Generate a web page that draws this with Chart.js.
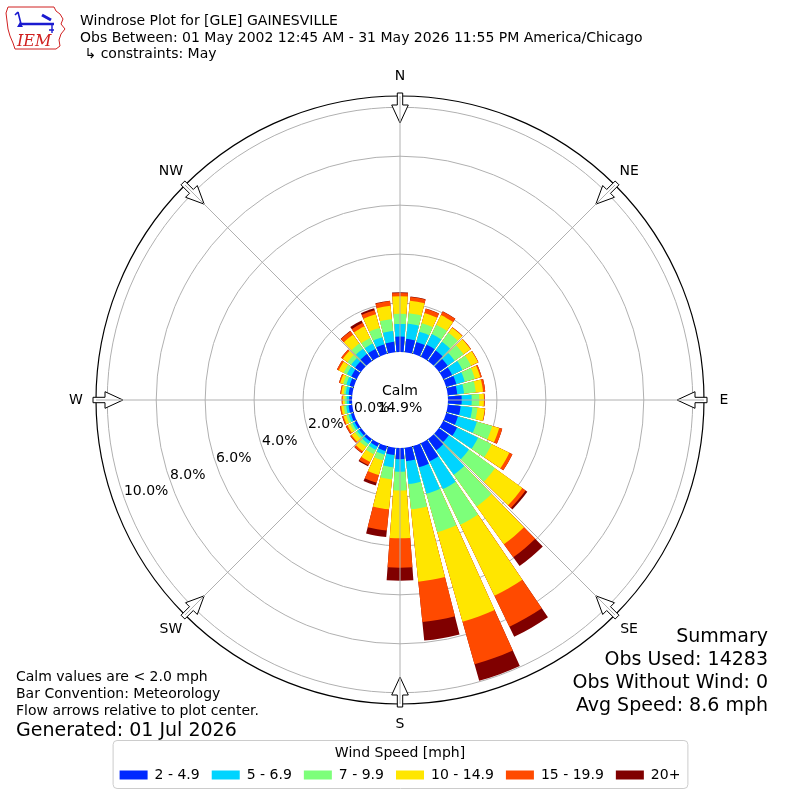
<!DOCTYPE html>
<html>
<head>
<meta charset="utf-8">
<title>Windrose Plot for [GLE] GAINESVILLE</title>
<script src="https://cdn.jsdelivr.net/npm/chart.js@4.4.1/dist/chart.umd.min.js"></script>
<style>
  body { margin: 0; background: #fff; }
  #wrap { position: relative; width: 800px; height: 800px; font-family: "DejaVu Sans", sans-serif; color: #000; overflow: hidden; }
  #rosa { position: absolute; left: 0; top: 0; }
  .txt { position: absolute; white-space: nowrap; font-size: 14px; line-height: 17px; }
  .big { font-size: 19px; line-height: 23px; }
</style>
</head>
<body>
<div id="wrap">
  <canvas id="rosa" width="800" height="800"></canvas>

  <svg width="66" height="50" viewBox="0 0 66 50" style="position:absolute;left:2px;top:3px">
    <path d="M6 4 L52 4 L54 8 L58 11 L61 16 L59 21 L63 26 L59 31 L57 37 L58 43 L54 46 L13 46 L11 40 L8 33 L6 26 L5 18 L4 10 Z"
          fill="none" stroke="#d02020" stroke-width="1"/>
    <path d="M19 21 L52 21" stroke="#1a1ad0" stroke-width="2.6"/>
    <path d="M19 21 L16 9 M16 9 L13 12" stroke="#1a1ad0" stroke-width="1.6" fill="none"/>
    <path d="M15 24 L18 19 L21 24 Z" fill="#1a1ad0"/>
    <path d="M40 12 L49 17" stroke="#1a1ad0" stroke-width="3"/>
    <path d="M50 21 L50 30 M47 27 L52 27" stroke="#1a1ad0" stroke-width="1.4"/>
    <text x="15" y="43" font-family="DejaVu Serif" font-style="italic" font-size="16" fill="#d02020">IEM</text>
  </svg>

  <div class="txt" style="left:80px; top:12px; line-height:16.7px">Windrose Plot for [GLE] GAINESVILLE<br>Obs Between: 01 May 2002 12:45 AM - 31 May 2026 11:55 PM America/Chicago<br>&nbsp;↳ constraints: May</div>

  <div class="txt" style="left:16px; top:668px">Calm values are &lt; 2.0 mph<br>Bar Convention: Meteorology<br>Flow arrows relative to plot center.</div>
  <div class="txt big" style="left:16px; top:718px">Generated: 01 Jul 2026</div>

  <div class="txt big" style="right:32px; top:624px; text-align:right">Summary<br>Obs Used: 14283<br>Obs Without Wind: 0<br>Avg Speed: 8.6 mph</div>
</div>

<script>
// wind directions (deg, meteorological) and speed bins
var DIRS = [0, 10, 20, 30, 40, 50, 60, 70, 80, 90, 100, 110,
            120, 130, 140, 150, 160, 170, 180, 190, 200, 210, 220, 230,
            240, 250, 260, 270, 280, 290, 300, 310, 320, 330, 340, 350];

var BIN_LABELS = ["2 - 4.9", "5 - 6.9", "7 - 9.9", "10 - 14.9", "15 - 19.9", "20+"];
var BIN_COLORS = ["#0028ff", "#00d4ff", "#7dff7a", "#ffe600", "#ff4a00", "#800000"];

// frequency (%) of each speed bin by direction
var SPD_2_5 = [0.63, 0.55, 0.50, 0.55, 0.53, 0.44, 0.40, 0.43, 0.39, 0.56, 0.53, 0.50,
               0.63, 0.50, 0.57, 0.82, 0.90, 0.55, 0.46, 0.30, 0.20, 0.15, 0.12, 0.10,
               0.10, 0.12, 0.15, 0.12, 0.15, 0.18, 0.25, 0.30, 0.35, 0.35, 0.40, 0.43];
var SPD_5_7 = [0.52, 0.62, 0.44, 0.48, 0.44, 0.35, 0.47, 0.36, 0.28, 0.41, 0.48, 0.80,
               0.95, 1.01, 1.23, 1.26, 1.12, 0.94, 0.51, 0.50, 0.16, 0.15, 0.13, 0.10,
               0.10, 0.10, 0.10, 0.10, 0.12, 0.14, 0.20, 0.20, 0.27, 0.25, 0.30, 0.44];
var SPD_7_10 = [0.41, 0.43, 0.36, 0.42, 0.45, 0.45, 0.39, 0.43, 0.48, 0.31, 0.21, 0.65,
                0.62, 1.31, 1.60, 1.62, 1.63, 1.04, 0.77, 0.50, 0.24, 0.20, 0.15, 0.10,
                0.10, 0.10, 0.10, 0.08, 0.08, 0.13, 0.15, 0.18, 0.26, 0.25, 0.40, 0.49];
var SPD_10_15 = [0.72, 0.52, 0.43, 0.44, 0.26, 0.35, 0.32, 0.23, 0.30, 0.19, 0.30, 0.30,
                 0.80, 1.38, 1.90, 3.22, 3.80, 2.97, 1.95, 1.23, 0.62, 0.35, 0.22, 0.18,
                 0.12, 0.12, 0.10, 0.08, 0.10, 0.13, 0.22, 0.24, 0.45, 0.53, 0.58, 0.55];
var SPD_15_20 = [0.13, 0.15, 0.18, 0.16, 0.02, 0.02, 0.02, 0.06, 0.09, 0.03, 0.02, 0.13,
                 0.14, 0.16, 0.66, 1.41, 1.81, 1.66, 1.20, 0.87, 0.33, 0.15, 0.08, 0.06,
                 0.07, 0.05, 0.05, 0.04, 0.04, 0.05, 0.08, 0.08, 0.17, 0.16, 0.17, 0.19];
var SPD_20P = [0.03, 0.02, 0.01, 0.01, 0.00, 0.00, 0.00, 0.00, 0.00, 0.00, 0.00, 0.00,
               0.00, 0.09, 0.44, 0.45, 0.70, 0.76, 0.53, 0.27, 0.12, 0.05, 0.02, 0.01,
               0.01, 0.01, 0.00, 0.00, 0.00, 0.00, 0.00, 0.00, 0.02, 0.11, 0.08, 0.02];

var CALM = 14.9;
var RING_TICKS = [0, 2, 4, 6, 8, 10];
var COMPASS = ["N", "NE", "E", "SE", "S", "SW", "W", "NW"];

// radial axis: value 0 sits on the calm circle, frame a bit past 10 %
var R_MIN = -1.96;
var R_MAX = 10.46;
var BAR_DEG = 8.5;
var GAP_DEG = 10 - BAR_DEG;
var FONT = "DejaVu Sans";

var bins = [SPD_2_5, SPD_5_7, SPD_7_10, SPD_10_15, SPD_15_20, SPD_20P];

// stacked (cumulative) values, each direction followed by an empty gap slot
var labels = [];
DIRS.forEach(function (d) { labels.push(d + "°", ""); });

var datasets = [];
var running = DIRS.map(function () { return 0; });
for (var k = 0; k < bins.length; k++) {
    var vals = [];
    for (var i = 0; i < DIRS.length; i++) {
        running[i] += bins[k][i];
        vals.push(+running[i].toFixed(2), R_MIN);
    }
    datasets.push({
        label: BIN_LABELS[k],
        data: vals,
        backgroundColor: BIN_COLORS[k],
        borderWidth: 0,
        angle: function (c) { return c.dataIndex % 2 === 0 ? BAR_DEG : GAP_DEG; }
    });
}

function pointAt(s, deg, r) {
    var a = deg * Math.PI / 180;
    return [s.xCenter + r * Math.sin(a), s.yCenter - r * Math.cos(a)];
}

var rosePlugin = {
    id: "rose",
    beforeDraw: function (chart) {
        // rounded frame round the legend
        var lg = chart.legend, hb = lg.legendHitBoxes;
        if (!hb || !hb.length) return;
        var ctx = chart.ctx;
        var last = hb[hb.length - 1];
        var x0 = hb[0].left - 7, x1 = last.left + last.width + 7;
        var y0 = lg.top + 42 - 6, y1 = hb[0].top + hb[0].height + 6;
        ctx.save();
        ctx.beginPath();
        ctx.roundRect(x0 + 0.5, y0 + 0.5, x1 - x0, y1 - y0, 4);
        ctx.fillStyle = "rgba(255,255,255,0.8)";
        ctx.fill();
        ctx.strokeStyle = "#cccccc";
        ctx.lineWidth = 1;
        ctx.stroke();
        ctx.restore();
    },
    afterDatasetsDraw: function (chart) {
        var s = chart.scales.r, ctx = chart.ctx;
        ctx.save();
        ctx.fillStyle = "#fff";
        ctx.beginPath();
        ctx.arc(s.xCenter, s.yCenter, s.getDistanceFromCenterForValue(0), 0, Math.PI * 2);
        ctx.fill();
        ctx.restore();
    },
    afterDraw: function (chart) {
        var s = chart.scales.r, ctx = chart.ctx;
        var r0 = s.getDistanceFromCenterForValue(0);
        var rMax = s.getDistanceFromCenterForValue(s.max);
        ctx.save();

        // hollow flow arrows on the frame
        COMPASS.forEach(function (name, k) {
            var a = k * 45 * Math.PI / 180;
            var ux = Math.sin(a), uy = -Math.cos(a), vx = Math.cos(a), vy = Math.sin(a);
            var shape = [[rMax + 3, -2.7], [rMax - 9, -2.7], [rMax - 9, -8.3], [rMax - 27, 0],
                         [rMax - 9, 8.3], [rMax - 9, 2.7], [rMax + 3, 2.7]];
            ctx.beginPath();
            shape.forEach(function (p, j) {
                var x = s.xCenter + p[0] * ux + p[1] * vx;
                var y = s.yCenter + p[0] * uy + p[1] * vy;
                if (j === 0) ctx.moveTo(x, y); else ctx.lineTo(x, y);
            });
            ctx.closePath();
            ctx.fillStyle = "#fff";
            ctx.fill();
            ctx.strokeStyle = "#000";
            ctx.lineWidth = 1;
            ctx.stroke();
        });

        // spokes every 45 degrees
        ctx.strokeStyle = "#b0b0b0";
        ctx.lineWidth = 1;
        COMPASS.forEach(function (name, k) {
            var p0 = pointAt(s, k * 45, r0), p1 = pointAt(s, k * 45, rMax);
            ctx.beginPath();
            ctx.moveTo(p0[0], p0[1]);
            ctx.lineTo(p1[0], p1[1]);
            ctx.stroke();
        });

        ctx.fillStyle = "#000";
        ctx.font = "14px '" + FONT + "'";
        ctx.textBaseline = "middle";

        // compass names
        ctx.textAlign = "center";
        COMPASS.forEach(function (name, k) {
            var p = pointAt(s, k * 45, rMax + 20);
            ctx.fillText(name, p[0], p[1]);
        });

        // ring labels along 250 degrees
        ctx.textAlign = "left";
        RING_TICKS.forEach(function (v) {
            var p = pointAt(s, 250, s.getDistanceFromCenterForValue(v));
            ctx.fillText(v.toFixed(1) + "%", p[0] - 1, p[1] - 8.5);
        });

        // calm share in the middle
        ctx.textAlign = "center";
        ctx.fillText("Calm", s.xCenter, s.yCenter - 8.5);
        ctx.fillText(CALM.toFixed(1) + "%", s.xCenter, s.yCenter + 8.5);
        ctx.restore();
    }
};

var chart = new Chart(document.getElementById("rosa").getContext("2d"), {
    type: "polarArea",
    data: { labels: labels, datasets: datasets },
    options: {
        responsive: false,
        animation: false,
        layout: { padding: { top: 96, left: 96, right: 96, bottom: 8 } },
        scales: {
            r: {
                min: R_MIN,
                max: R_MAX,
                bounds: "data",
                startAngle: -BAR_DEG / 2,
                z: 1,
                afterBuildTicks: function (scale) {
                    scale.ticks = [R_MIN].concat(RING_TICKS, [R_MAX]).map(function (v) { return { value: v }; });
                },
                ticks: { display: false },
                pointLabels: { display: false },
                angleLines: { display: false },
                grid: {
                    circular: true,
                    color: function (c) {
                        var v = c.tick ? c.tick.value : null;
                        if (v === R_MIN) return "rgba(0,0,0,0)";
                        if (v === 0 || v === R_MAX) return "#000";
                        return "#b0b0b0";
                    },
                    lineWidth: function (c) {
                        var v = c.tick ? c.tick.value : null;
                        if (v === 0) return 1.5;
                        if (v === R_MAX) return 1.2;
                        return 1;
                    }
                }
            }
        },
        plugins: {
            tooltip: { enabled: false },
            legend: {
                position: "bottom",
                labels: {
                    boxWidth: 28,
                    boxHeight: 9,
                    padding: 12,
                    color: "#000",
                    font: { family: FONT, size: 14 },
                    generateLabels: function () {
                        return BIN_LABELS.map(function (t, i) {
                            return { text: t, fillStyle: BIN_COLORS[i], strokeStyle: BIN_COLORS[i],
                                     lineWidth: 0, hidden: false, datasetIndex: i };
                        });
                    }
                },
                title: {
                    display: true,
                    text: "Wind Speed [mph]",
                    color: "#000",
                    font: { family: FONT, size: 14, lineHeight: 1.2 },
                    padding: { top: 42, bottom: -6.8 }
                }
            }
        }
    },
    plugins: [rosePlugin]
});
</script>
</body>
</html>
